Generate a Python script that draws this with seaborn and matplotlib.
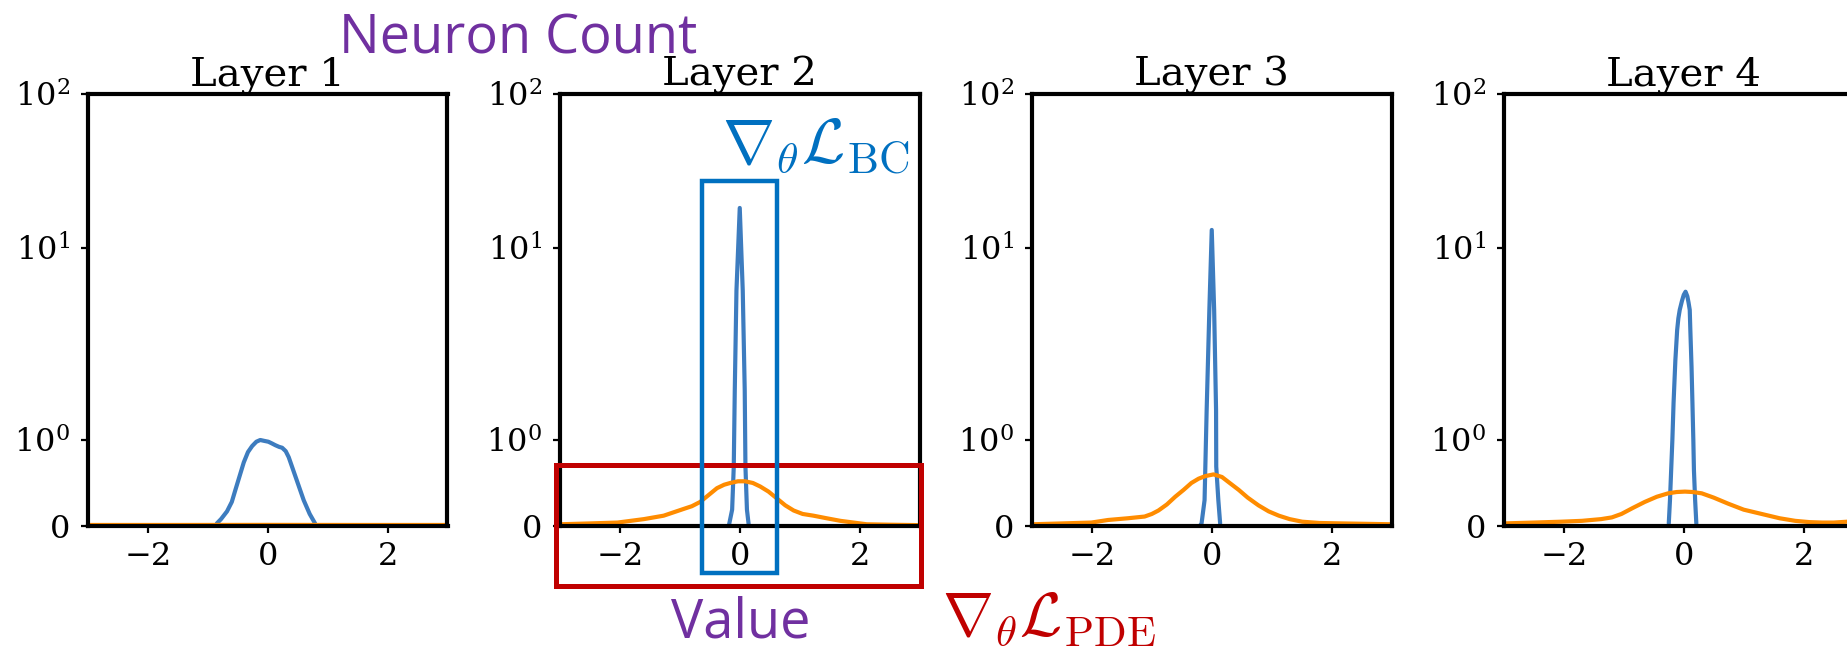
import numpy as np
import pandas as pd
import matplotlib
matplotlib.use("Agg")
import matplotlib.pyplot as plt
import seaborn as sns
from matplotlib.patches import Rectangle

# ---------------- data ----------------
layers = ["Layer 1", "Layer 2", "Layer 3", "Layer 4"]
series_names = ["BC", "PDE"]

# Layer 1
bc_x_1 = [-0.85, -0.78, -0.68, -0.60, -0.54, -0.47, -0.40, -0.33, -0.26, -0.19, -0.125, -0.06,
          0.01, 0.07, 0.125, 0.19, 0.24, 0.30, 0.35, 0.40, 0.46, 0.53, 0.60, 0.70, 0.79]
bc_v_1 = [0.03, 0.08, 0.17, 0.28, 0.42, 0.58, 0.74, 0.86, 0.93, 0.98, 1.00, 0.99,
          0.98, 0.96, 0.94, 0.92, 0.91, 0.87, 0.80, 0.70, 0.58, 0.44, 0.30, 0.14, 0.03]
pde_x_1 = [-3.0, -1.5, 0.0, 1.5, 3.0]
pde_v_1 = [0.012, 0.012, 0.013, 0.012, 0.012]

# Layer 2
bc_x_2 = [-0.18, -0.127, -0.10, -0.083, -0.055, 0.0, 0.05, 0.083, 0.095, 0.12, 0.15]
bc_v_2 = [0.01, 0.19, 0.69, 1.82, 6.0, 18.2, 6.0, 1.82, 0.69, 0.19, 0.01]
pde_x_2 = [-3.0, -2.5, -2.04, -1.6, -1.27, -1.1, -0.93, -0.8, -0.66, -0.52, -0.38, -0.26, -0.16,
           -0.03, 0.09, 0.22, 0.34, 0.48, 0.62, 0.76, 0.90, 1.05, 1.23, 1.45, 1.68, 1.9, 2.12,
           2.5, 3.0]
pde_v_2 = [0.02, 0.03, 0.04, 0.08, 0.12, 0.16, 0.20, 0.23, 0.28, 0.36, 0.44, 0.48, 0.50,
           0.52, 0.52, 0.50, 0.46, 0.40, 0.32, 0.24, 0.18, 0.14, 0.12, 0.09, 0.06, 0.04, 0.02,
           0.015, 0.01]

# Layer 3
bc_x_3 = [-0.20, -0.17, -0.12, -0.107, -0.085, -0.04, 0.0, 0.04, 0.072, 0.075, 0.11, 0.14]
bc_v_3 = [0.0, 0.03, 0.30, 0.69, 1.43, 4.76, 13.1, 4.76, 1.43, 0.69, 0.30, 0.03]
pde_x_3 = [-3.0, -2.5, -2.01, -1.73, -1.4, -1.12, -1.0, -0.89, -0.75, -0.61, -0.47, -0.34, -0.22,
           -0.11, 0.03, 0.17, 0.3, 0.45, 0.6, 0.78, 0.95, 1.12, 1.3, 1.51, 1.8, 2.18, 2.6, 3.0]
pde_v_3 = [0.02, 0.03, 0.04, 0.07, 0.09, 0.11, 0.14, 0.18, 0.25, 0.34, 0.42, 0.50, 0.55,
           0.58, 0.60, 0.57, 0.50, 0.42, 0.33, 0.24, 0.17, 0.12, 0.08, 0.05, 0.035, 0.03, 0.025,
           0.02]

# Layer 4
bc_x_4 = [-0.25, -0.23, -0.21, -0.19, -0.17, -0.14, -0.11, -0.09, -0.067, -0.03, 0.0, 0.03,
          0.06, 0.08, 0.10, 0.11, 0.13, 0.145, 0.16, 0.17, 0.19, 0.21]
bc_v_4 = [0.03, 0.30, 0.65, 1.0, 1.56, 2.6, 3.74, 4.3, 4.76, 5.3, 5.7, 5.92,
          5.6, 5.2, 4.76, 3.74, 2.4, 1.56, 1.0, 0.65, 0.3, 0.03]
pde_x_4 = [-3.0, -2.5, -2.05, -1.7, -1.38, -1.2, -1.04, -0.85, -0.65, -0.45, -0.26, -0.12, 0.02,
           0.15, 0.30, 0.5, 0.74, 1.0, 1.30, 1.6, 1.86, 2.1, 2.31, 2.5, 2.73, 3.0]
pde_v_4 = [0.03, 0.04, 0.05, 0.06, 0.08, 0.10, 0.14, 0.21, 0.28, 0.34, 0.38, 0.395, 0.40,
           0.395, 0.38, 0.33, 0.26, 0.19, 0.14, 0.09, 0.06, 0.045, 0.04, 0.04, 0.05, 0.06]

y_ticks = [0, 1, 10, 100]
y_tick_labels = ["0", r"$10^0$", r"$10^1$", r"$10^2$"]
x_ticks = [-2, 0, 2]

curves = {
    "Layer 1": ((bc_x_1, bc_v_1), (pde_x_1, pde_v_1)),
    "Layer 2": ((bc_x_2, bc_v_2), (pde_x_2, pde_v_2)),
    "Layer 3": ((bc_x_3, bc_v_3), (pde_x_3, pde_v_3)),
    "Layer 4": ((bc_x_4, bc_v_4), (pde_x_4, pde_v_4)),
}

rows = []
for layer, ((bx, bv), (px, pv)) in curves.items():
    for i, (x, v) in enumerate(zip(bx, bv)):
        rows.append((layer, "BC", i, x, v))
    for i, (x, v) in enumerate(zip(px, pv)):
        rows.append((layer, "PDE", i, x, v))
df = pd.DataFrame(rows, columns=["layer", "series", "idx", "value", "count"])

# ---------------- style ----------------
sns.set_theme(style="ticks")
plt.rcParams["font.family"] = ["DejaVu Serif"]
plt.rcParams["mathtext.fontset"] = "dejavuserif"
plt.rcParams["axes.linewidth"] = 3.0
plt.rcParams["axes.edgecolor"] = "black"

BLUE = "#3d7cbf"
ORANGE = "#ff8c00"
palette = {"BC": BLUE, "PDE": ORANGE}

# piecewise y-scale matching the reference axis (0 | 10^0 | 10^1 | 10^2)
def _fwd(v):
    v = np.asarray(v, dtype=float)
    a = np.maximum(v, 1e-12)
    lo = 86.0 * v
    mid = 86.0 + 192.0 * np.log10(np.clip(a, 1.0, 10.0))
    hi = 278.0 + 154.0 * np.log10(np.clip(a, 10.0, None) / 10.0)
    return np.where(v <= 1, lo, np.where(v <= 10, mid, hi))

def _inv(u):
    u = np.asarray(u, dtype=float)
    lo = u / 86.0
    mid = 10 ** ((np.clip(u, 86.0, 278.0) - 86.0) / 192.0)
    hi = 10 * 10 ** ((np.clip(u, 278.0, None) - 278.0) / 154.0)
    return np.where(u <= 86, lo, np.where(u <= 278, mid, hi))

W, H = 1847, 653
fig = plt.figure(figsize=(W / 100, H / 100), dpi=100)

lefts = [88, 560, 1032, 1504]
ax_w, ax_top, ax_bot = 359.5, 94, 526

for layer, lp in zip(layers, lefts):
    ax = fig.add_axes([lp / W, (H - ax_bot) / H, ax_w / W, (ax_bot - ax_top) / H])
    sub = df[df["layer"] == layer]
    sns.lineplot(data=sub, x="value", y="count", hue="series", hue_order=series_names,
                 palette=palette, units="series", estimator=None, sort=False,
                 legend=False, linewidth=3.0, ax=ax)
    ax.set_yscale("function", functions=(_fwd, _inv))
    ax.set_xlim(-3, 3)
    ax.set_ylim(0, 100)
    ax.set_yticks(y_ticks)
    ax.set_yticklabels(y_tick_labels)
    ax.yaxis.set_minor_locator(matplotlib.ticker.NullLocator())
    ax.set_xticks(x_ticks)
    ax.set_xlabel("")
    ax.set_ylabel("")
    ax.tick_params(axis="both", labelsize=23, length=5, width=1.6, direction="out",
                   color="black", labelcolor="black")
    ax.tick_params(axis="y", pad=8)
    ax.tick_params(axis="x", pad=6)
    for s in ax.spines.values():
        s.set_visible(True)
        s.set_linewidth(3.0)
        s.set_color("black")
    ax.set_title(layer, fontsize=29, pad=3, color="black")

# ---------------- annotations ----------------
PURPLE = "#7030A0"
ANN_BLUE = "#0070C0"
ANN_RED = "#C00000"

def fx(px):
    return px / W

def fy(py):
    return (H - py) / H

fig.text(fx(339), fy(53), "Neuron Count", ha="left", va="baseline", fontsize=39,
         color=PURPLE, family=["Open Sans", "DejaVu Sans"])
fig.text(fx(741), fy(638), "Value", ha="center", va="baseline", fontsize=39,
         color=PURPLE, family=["Open Sans", "DejaVu Sans"])

fig.text(fx(722), fy(163), r"$\nabla_{\theta}\mathcal{L}_{\mathrm{BC}}$", ha="left",
         va="baseline", fontsize=45, color=ANN_BLUE, math_fontfamily="cm")
fig.text(fx(942), fy(636), r"$\nabla_{\theta}\mathcal{L}_{\mathrm{PDE}}$", ha="left",
         va="baseline", fontsize=44, color=ANN_RED, math_fontfamily="cm")

red_box = Rectangle((fx(556), fy(586)), (921 - 556) / W, (586 - 465) / H,
                    transform=fig.transFigure, fill=False, edgecolor=ANN_RED,
                    linewidth=3.6, zorder=10)
blue_box = Rectangle((fx(702), fy(573)), (777 - 702) / W, (573 - 181) / H,
                     transform=fig.transFigure, fill=False, edgecolor=ANN_BLUE,
                     linewidth=3.2, zorder=11)
fig.patches.append(red_box)
fig.patches.append(blue_box)

fig.savefig("out.png", dpi=100)
